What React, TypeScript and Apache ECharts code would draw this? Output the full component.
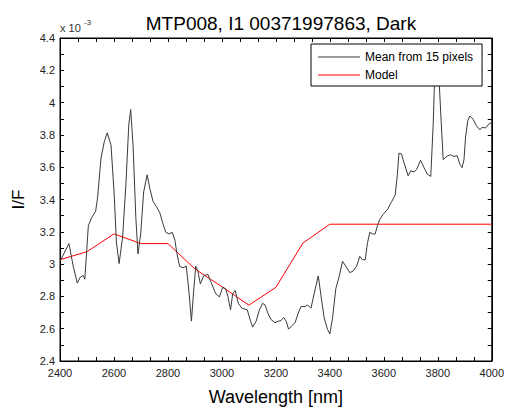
import React, { useEffect, useRef } from "react";
import * as echarts from "echarts";

const meanWavelength = [
  2400, 2433, 2449, 2464, 2474, 2486, 2492, 2505, 2517, 2532, 2539, 2552, 2564, 2575, 2589,
  2601, 2609, 2619, 2632, 2644, 2655, 2662, 2671, 2681, 2689, 2699, 2710, 2723, 2733, 2745,
  2757, 2770, 2782, 2792, 2804, 2816, 2826, 2833, 2843, 2856, 2868, 2878, 2887, 2895, 2903,
  2911, 2920, 2932, 2948, 2960, 2977, 2991, 3003, 3014, 3022, 3032, 3040, 3049, 3061, 3074,
  3094, 3106, 3114, 3127, 3139, 3151, 3160, 3170, 3182, 3197, 3209, 3219, 3229, 3238, 3247,
  3258, 3271, 3283, 3293, 3308, 3318, 3330, 3346, 3357, 3367, 3379, 3391, 3400, 3410, 3422,
  3435, 3447, 3459, 3474, 3486, 3499, 3511, 3521, 3531, 3539, 3548, 3558, 3568, 3576, 3585,
  3597, 3613, 3629, 3642, 3650, 3656, 3665, 3675, 3690, 3700, 3712, 3722, 3736, 3749, 3761,
  3774, 3783, 3790, 3798, 3806, 3813, 3820, 3833, 3847, 3860, 3872, 3882, 3890, 3897, 3903,
  3911, 3919, 3931, 3943, 3956, 3964, 3977, 3989, 4000,
];
const meanValues = [
  3.017, 3.127, 2.987, 2.882, 2.917, 2.93, 2.906, 3.237, 3.287, 3.327, 3.407, 3.657, 3.757, 3.813, 3.737,
  3.427, 3.137, 3.003, 3.167, 3.487, 3.867, 3.957, 3.727, 3.287, 3.063, 3.187, 3.447, 3.553, 3.467, 3.387,
  3.357, 3.317, 3.247, 3.197, 3.187, 3.197, 3.147, 3.067, 2.987, 2.977, 2.987, 2.827, 2.647, 2.827, 2.987,
  2.957, 2.877, 2.927, 2.937, 2.887, 2.817, 2.797, 2.857, 2.847, 2.8, 2.717, 2.817, 2.837, 2.757, 2.727,
  2.717, 2.647, 2.61, 2.647, 2.717, 2.757, 2.747, 2.697, 2.657, 2.637, 2.647, 2.65, 2.67, 2.647, 2.597,
  2.617, 2.637, 2.697, 2.737, 2.737, 2.747, 2.727, 2.847, 2.927, 2.807, 2.667, 2.597, 2.567, 2.667, 2.847,
  2.927, 3.017, 2.987, 2.947, 2.957, 2.987, 3.047, 3.027, 3.027, 3.127, 3.197, 3.187, 3.187, 3.237, 3.277,
  3.307, 3.337, 3.387, 3.427, 3.55, 3.687, 3.683, 3.627, 3.547, 3.577, 3.571, 3.587, 3.643, 3.597, 3.557,
  3.543, 3.867, 4.25, 4.3, 4.1, 3.867, 3.647, 3.667, 3.677, 3.667, 3.671, 3.617, 3.597, 3.647, 3.787,
  3.887, 3.917, 3.897, 3.857, 3.831, 3.847, 3.843, 3.867, 3.877,
];

const modelWavelength = [2400, 2500, 2600, 2700, 2800, 2900, 3000, 3100, 3200, 3300, 3400, 3500, 3600, 3700, 3800, 3900, 4000];
const modelValues = [3.027, 3.077, 3.187, 3.127, 3.127, 2.97, 2.86, 2.746, 2.856, 3.13, 3.247, 3.247, 3.247, 3.247, 3.247, 3.247, 3.247];

const titleText = "MTP008, I1 00371997863, Dark";
const xName = "Wavelength [nm]";
const yName = "I/F";
const seriesNames = ["Mean from 15 pixels", "Model"];
const seriesColors = ["#3a3a3a", "#ff0000"];

const FONT = "'Liberation Sans', Arial, Helvetica, sans-serif";

export default function App() {
  const ref = useRef<HTMLDivElement>(null);
  useEffect(() => {
    if (!ref.current) return;
    const chart = echarts.init(ref.current, undefined, { renderer: "svg" });
    const tickCommon = { show: true, inside: true, length: 4, lineStyle: { color: "#000", width: 1 } };
    const minorCommon = { show: true, length: 4, lineStyle: { color: "#000", width: 1 } };
    chart.setOption({
      animation: false,
      backgroundColor: "#fff",
      textStyle: { fontFamily: FONT },
      title: {
        text: titleText,
        left: 276,
        textAlign: "center",
        top: 9,
        textStyle: { fontSize: 19, fontWeight: "normal", color: "#000", fontFamily: FONT },
      },
      graphic: [
        { type: "text", left: 60, top: 22, style: { text: "x 10", fontSize: 11, fill: "#333", fontFamily: FONT } },
        { type: "text", left: 84, top: 18, style: { text: "-3", fontSize: 8, fill: "#333", fontFamily: FONT } },
      ],
      legend: {
        orient: "vertical",
        left: 311,
        top: 44,
        itemWidth: 42,
        itemHeight: 1,
        itemGap: 4,
        icon: "rect",
        padding: [6, 9, 4, 7],
        backgroundColor: "#fff",
        borderColor: "#000",
        borderWidth: 1,
        textStyle: { fontSize: 12, color: "#000", fontFamily: FONT, lineHeight: 14 },
        data: seriesNames.map((n, i) => ({ name: n, itemStyle: { color: seriesColors[i] } })),
      },
      grid: { left: 60, top: 38, width: 433, height: 333, show: true, borderColor: "#000", borderWidth: 1 },
      xAxis: [
        {
          type: "value",
          min: 2400,
          max: 4000,
          interval: 200,
          name: xName,
          nameLocation: "middle",
          nameGap: 27,
          nameTextStyle: { fontSize: 18, color: "#000", fontFamily: FONT },
          axisLine: { show: true, lineStyle: { color: "#000" } },
          axisTick: tickCommon,
          minorTick: { ...minorCommon, splitNumber: 3 },
          splitLine: { show: false },
          axisLabel: { fontSize: 11, color: "#222", margin: 6, formatter: (v: number) => String(v) },
        },
        {
          type: "value",
          position: "top",
          min: 2400,
          max: 4000,
          interval: 200,
          axisLine: { show: true, lineStyle: { color: "#000" } },
          axisTick: tickCommon,
          minorTick: { ...minorCommon, splitNumber: 3 },
          splitLine: { show: false },
          axisLabel: { show: false },
        },
      ],
      yAxis: [
        {
          type: "value",
          min: 2.4,
          max: 4.4,
          interval: 0.2,
          name: yName,
          nameLocation: "middle",
          nameGap: 33,
          nameTextStyle: { fontSize: 17, color: "#000", fontFamily: FONT },
          axisLine: { show: true, lineStyle: { color: "#000" } },
          axisTick: tickCommon,
          minorTick: { ...minorCommon, splitNumber: 2 },
          splitLine: { show: false },
          axisLabel: { fontSize: 11, color: "#222", margin: 5, formatter: (v: number) => String(Math.round(v * 10) / 10) },
        },
        {
          type: "value",
          position: "right",
          min: 2.4,
          max: 4.4,
          interval: 0.2,
          axisLine: { show: true, lineStyle: { color: "#000" } },
          axisTick: tickCommon,
          minorTick: { ...minorCommon, splitNumber: 2 },
          splitLine: { show: false },
          axisLabel: { show: false },
        },
      ],
      series: [
        {
          name: seriesNames[0],
          type: "line",
          symbol: "none",
          data: meanWavelength.map((w, i) => [w, meanValues[i]]),
          lineStyle: { color: seriesColors[0], width: 1 },
          itemStyle: { color: seriesColors[0] },
          z: 3,
        },
        {
          name: seriesNames[1],
          type: "line",
          symbol: "none",
          data: modelWavelength.map((w, i) => [w, modelValues[i]]),
          lineStyle: { color: seriesColors[1], width: 1 },
          itemStyle: { color: seriesColors[1] },
          z: 2,
        },
      ],
    });
    return () => chart.dispose();
  }, []);
  return <div ref={ref} style={{ position: "fixed", left: 0, top: 0, width: 507, height: 411 }} />;
}
